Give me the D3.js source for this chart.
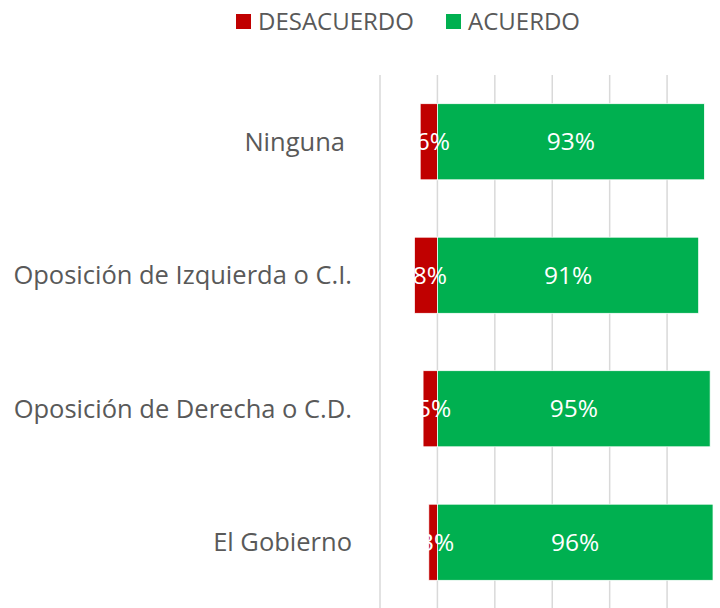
<!DOCTYPE html>
<html><head><meta charset="utf-8">
<script src="https://cdn.jsdelivr.net/npm/d3@7"></script>
<style>body{margin:0;background:#fff}svg{display:block}</style>
</head><body>
<script>
const categories = ["Ninguna", "Oposición de Izquierda o C.I.", "Oposición de Derecha o C.D.", "El Gobierno"];
const desacuerdo = [6, 8, 5, 3];
const acuerdo = [93, 91, 95, 96];
const xTicks = [-20, 0, 20, 40, 60, 80, 100];
const seriesNames = ["DESACUERDO", "ACUERDO"];
const colors = ["#c00000", "#00b050"];

const W = 720, H = 608;
const font = "'Open Sans', 'Noto Sans', sans-serif";
const svg = d3.select("body").append("svg").attr("width", W).attr("height", H);

const x = d3.scaleLinear().domain([-20, 100]).range([380, 724.5]);
const y = d3.scaleBand().domain(categories).range([75, 609]).paddingInner(0.43).paddingOuter(0.215);

svg.append("g").selectAll("line").data(xTicks).join("line")
  .attr("x1", d => x(d)).attr("x2", d => x(d))
  .attr("y1", 75).attr("y2", H)
  .attr("stroke", "#d9d9d9").attr("stroke-width", 1.5);

const rows = categories.map((c, i) => ({c, d: desacuerdo[i], a: acuerdo[i]}));

svg.append("g").selectAll("rect").data(rows).join("rect")
  .attr("x", r => x(-r.d)).attr("width", r => x(0) - x(-r.d))
  .attr("y", r => y(r.c)).attr("height", y.bandwidth())
  .attr("fill", colors[0]).attr("stroke", "#fff").attr("stroke-width", 0.75);
svg.append("g").selectAll("rect").data(rows).join("rect")
  .attr("x", x(0)).attr("width", r => x(r.a) - x(0))
  .attr("y", r => y(r.c)).attr("height", y.bandwidth())
  .attr("fill", colors[1]).attr("stroke", "#fff").attr("stroke-width", 0.75);

const lab = svg.append("g").attr("font-family", font).attr("font-size", 24.5).attr("fill", "#fff").attr("text-anchor", "middle");
lab.selectAll("text.d").data(rows).join("text").attr("class", "d")
  .attr("x", r => (x(-r.d) + x(0)) / 2 + 4).attr("y", r => y(r.c) + y.bandwidth() / 2).attr("dy", "0.35em")
  .text(r => r.d + "%");
lab.selectAll("text.a").data(rows).join("text").attr("class", "a")
  .attr("x", r => (x(0) + x(r.a)) / 2).attr("y", r => y(r.c) + y.bandwidth() / 2).attr("dy", "0.35em")
  .text(r => r.a + "%");

svg.append("g").attr("font-family", font).attr("font-size", 25.5).attr("fill", "#595959").attr("text-anchor", "end")
  .selectAll("text").data(categories).join("text")
  .attr("x", (d, i) => i === 0 ? 345 : 352).attr("y", d => y(d) + y.bandwidth() / 2).attr("dy", "0.35em")
  .text(d => d);

const legX = [236, 446];
const leg = svg.append("g").attr("font-family", font).attr("font-size", 24).attr("fill", "#595959");
seriesNames.forEach((n, i) => {
  leg.append("rect").attr("x", legX[i]).attr("y", 14).attr("width", 15).attr("height", 15).attr("fill", colors[i]);
  leg.append("text").attr("x", legX[i] + 22).attr("y", 21.5).attr("dy", "0.35em").text(n);
});
</script>
</body></html>
